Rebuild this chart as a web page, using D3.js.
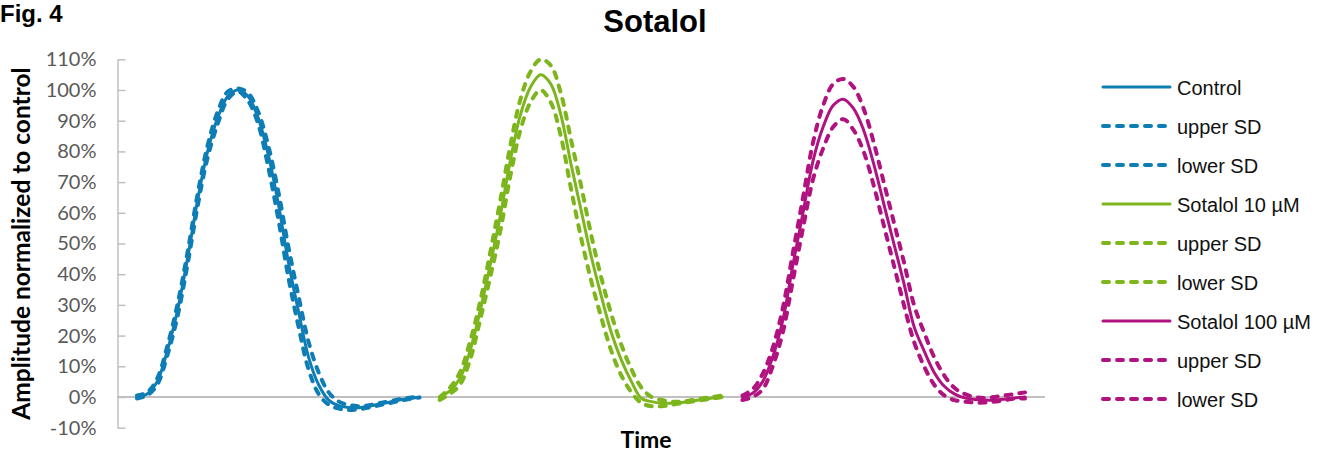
<!DOCTYPE html>
<html>
<head>
<meta charset="utf-8">
<script src="https://cdn.jsdelivr.net/npm/d3@7"></script>
<style>
  html, body { margin: 0; padding: 0; background: #fff; }
  svg { display: block; }
</style>
</head>
<body>
<svg id="chart" width="1332" height="452"></svg>
<script>
// ---------- data (values in % of control amplitude) ----------
const yTicks = [-10, 0, 10, 20, 30, 40, 50, 60, 70, 80, 90, 100, 110];

// sample offsets (time steps) where each trace starts
const traceStart = [0, 30, 60];

const controlMean = [0, 1, 5, 15, 28, 45, 64, 80, 91, 98, 100, 98, 91, 79, 63, 44, 28, 13, 4, -1, -2.8, -3.4, -3.5, -3, -2.3, -1.7, -1, -0.5, 0];
const controlUpper = [0.5, 1.5, 6, 16.5, 30, 47, 66, 82, 93, 99.5, 100.5, 99, 93, 82, 67, 49, 33, 18, 8, 1.5, -1.5, -2.6, -3, -2.7, -2, -1.4, -0.7, -0.2, 0.2];
const controlLower = [-0.5, 0.5, 4, 13.5, 26, 43, 62, 78, 89, 97, 99.5, 96.5, 89, 75, 58, 39, 23, 9, 1, -2.5, -3.8, -4.2, -4, -3.4, -2.7, -2, -1.3, -0.7, -0.2];

const sot10Mean = [0, 2, 6, 15, 28, 43, 59, 77, 92, 101, 105, 102, 92, 76, 61, 46, 33, 21, 12, 5, -0.5, -1.5, -2, -2, -1.8, -1.3, -0.8, -0.3, 0];
const sot10Upper = [0, 3, 8, 18, 31, 47, 64, 82, 97, 106, 110, 108, 99, 84, 69, 53, 39, 27, 17, 9, 3, 0, -1, -1.5, -1.5, -1, -0.5, 0, 0.5];
const sot10Lower = [-1, 1, 4, 12, 25, 39, 54, 72, 87, 96, 100, 96, 85, 68, 52, 38, 26, 15, 7, 1.5, -2, -3, -3, -2.5, -2, -1.5, -1, -0.5, 0];

const sot100Mean = [0, 1.2, 5, 13, 25, 43, 60, 77, 88, 95, 97, 94, 87, 76, 63, 50, 37, 23, 15, 8, 3.5, 1, -0.3, -0.8, -1, -1, -0.7, -0.3, 0];
const sot100Upper = [0.5, 2.5, 7.5, 16, 29, 47, 65, 83, 95, 102, 103.6, 101, 94, 83, 70, 57, 44, 30, 21, 13, 7, 3, 1, 0, -0.3, 0, 0.5, 1, 1.5];
const sot100Lower = [-1, 0, 2.5, 10, 21, 38, 55, 71, 81, 88, 90.5, 87, 80, 69, 56, 43, 30, 18, 10, 4, 0.5, -1, -1.5, -1.8, -1.8, -1.5, -1, -0.5, -0.5];

const seriesNames = ["Control", "upper SD", "lower SD", "Sotalol 10 µM", "upper SD", "lower SD", "Sotalol 100 µM", "upper SD", "lower SD"];
const seriesValues = [controlMean, controlUpper, controlLower, sot10Mean, sot10Upper, sot10Lower, sot100Mean, sot100Upper, sot100Lower];
const seriesGroup = [0, 0, 0, 1, 1, 1, 2, 2, 2];
const seriesDashed = [false, true, true, false, true, true, false, true, true];
const groupColors = ["#0f7db5", "#7db51c", "#b0127f"];

// ---------- layout ----------
const svg = d3.select("#chart");
const plotLeft = 117.5, plotRight = 1045;

const x = d3.scaleLinear().domain([0, 88]).range([137, 1025]);
const y = d3.scaleLinear().domain([-10, 110]).range([427.7, 59.3]);

// title & fig label
svg.append("text").attr("x", 0).attr("y", 22)
  .style("font", "bold 24px 'Liberation Sans', Arial, sans-serif").text("Fig. 4");
svg.append("text").attr("x", 655).attr("y", 32).attr("text-anchor", "middle")
  .style("font", "bold 31px 'Liberation Sans', Arial, sans-serif").text("Sotalol");

// y axis
const yAxis = d3.axisLeft(y).tickValues(yTicks).tickSize(-8).tickSizeOuter(0).tickPadding(21)
  .tickFormat(d => d + "%");
const gy = svg.append("g").attr("transform", `translate(${plotLeft},0)`).call(yAxis);
gy.select(".domain").attr("stroke", "#c0c0c0").attr("stroke-width", 1.5);
gy.selectAll(".tick line").attr("stroke", "#c0c0c0").attr("stroke-width", 1.5);
gy.selectAll(".tick text").attr("fill", "#595959")
  .style("font", "20px Lato, 'Open Sans', sans-serif");

// zero line (category axis)
svg.append("line").attr("x1", plotLeft).attr("x2", plotRight)
  .attr("y1", y(0)).attr("y2", y(0)).attr("stroke", "#c0c0c0").attr("stroke-width", 1.8);

// axis titles
svg.append("text").attr("transform", `translate(30,${(y(110) + y(-10)) / 2}) rotate(-90)`)
  .attr("text-anchor", "middle")
  .style("font", "bold 24.5px Lato, sans-serif").text("Amplitude normalized to control");
svg.append("text").attr("x", 646).attr("y", 448).attr("text-anchor", "middle")
  .style("font", "bold 23px Lato, sans-serif").text("Time");

// lines
const line = d3.line().x(d => x(d[0])).y(d => y(d[1])).curve(d3.curveCatmullRom.alpha(0.5));
seriesValues.forEach((vals, i) => {
  const g = seriesGroup[i];
  const pts = vals.map((v, k) => [traceStart[g] + k, v]);
  const p = svg.append("path").datum(pts).attr("d", line)
    .attr("fill", "none").attr("stroke", groupColors[g])
    .attr("stroke-linejoin", "round").attr("stroke-linecap", "round");
  if (seriesDashed[i]) p.attr("stroke-width", 4).attr("stroke-dasharray", "6 8");
  else p.attr("stroke-width", 3);
});

// legend
const legY = d3.scaleLinear().domain([0, 8]).range([87, 399]);
const leg = svg.append("g");
seriesNames.forEach((name, i) => {
  const g = seriesGroup[i];
  const ly = legY(i);
  const l = leg.append("line").attr("x1", 1103).attr("x2", 1170).attr("y1", ly).attr("y2", ly)
    .attr("stroke", groupColors[g]).attr("stroke-linecap", "round");
  if (seriesDashed[i]) l.attr("stroke-width", 4).attr("stroke-dasharray", "6 8");
  else l.attr("stroke-width", 3);
  leg.append("text").attr("x", 1177).attr("y", ly + 7.5)
    .style("font", "20px 'Liberation Sans', Arial, sans-serif").attr("fill", "#111").text(name);
});
</script>
</body>
</html>
